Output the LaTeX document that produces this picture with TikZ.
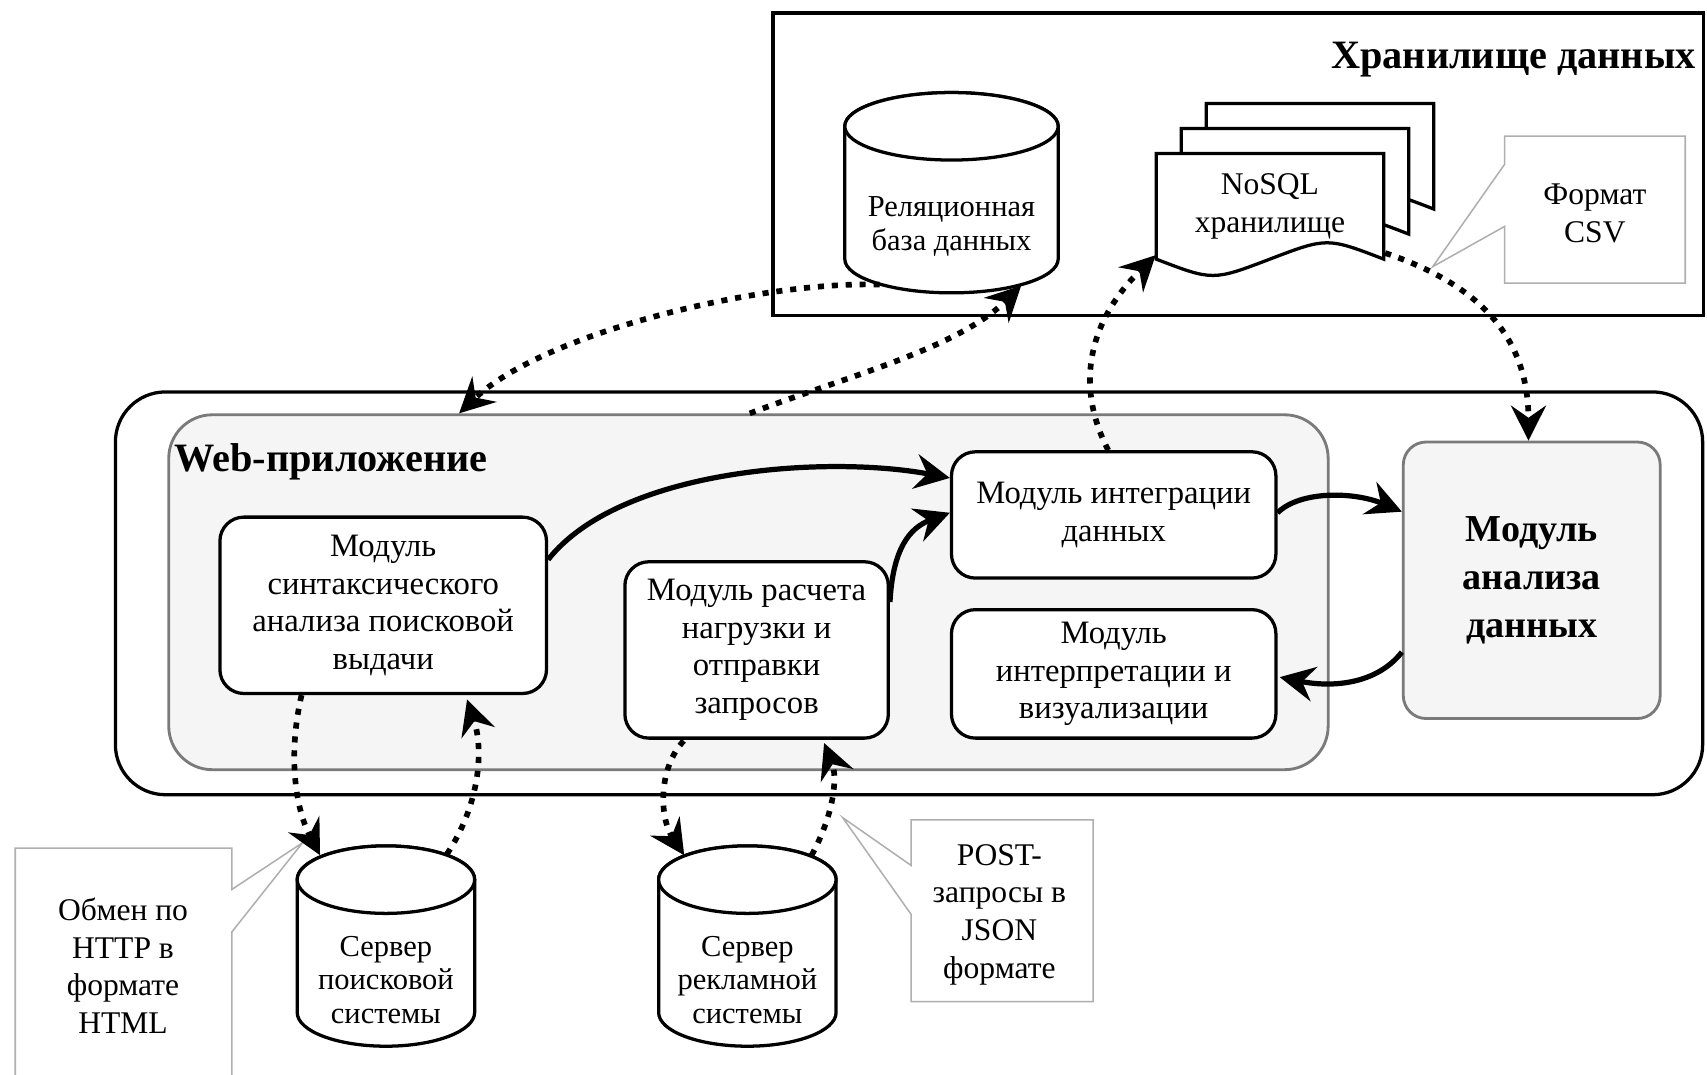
\documentclass[tikz,border=0pt]{standalone}
\usepackage{fontspec}
\setmainfont{Liberation Serif}
\usetikzlibrary{arrows.meta,calc}

\definecolor{panelfill}{HTML}{F5F5F5}
\definecolor{panelline}{HTML}{7A7A7A}
\definecolor{noteline}{HTML}{AFAFAF}

\tikzset{
  txt/.style={font=\fontsize{14.5}{17.3}\selectfont, align=center, inner sep=0pt},
  cyltxt/.style={font=\fontsize{14}{15.5}\selectfont, align=center, inner sep=0pt},
  heading/.style={font=\bfseries\fontsize{18.5}{21}\selectfont, inner sep=0pt},
  storeframe/.style={draw=black, line width=1.5pt, inner sep=0pt},
  container/.style={draw=black, line width=1.5pt, rounded corners=23pt, inner sep=0pt},
  webpanel/.style={draw=panelline, fill=panelfill, line width=1.3pt, rounded corners=20pt, inner sep=0pt},
  module/.style={txt, font=\fontsize{15}{17.3}\selectfont, draw=black, fill=white,
    line width=1.5pt, rounded corners=11pt},
  analysisbox/.style={draw=panelline, fill=panelfill, line width=1.3pt, rounded corners=10.5pt,
    align=center, inner sep=0pt, font=\bfseries\fontsize{17.5}{22}\selectfont},
  cylwall/.style={draw=black, fill=white, line width=1.5pt},
  docwall/.style={draw=black, fill=white, line width=1.5pt, line join=miter},
  notebox/.style={draw=noteline, fill=white, line width=0.7pt},
  solidarrow/.style={line width=2.4pt, -{Stealth[length=16pt,width=16pt,inset=5.5pt]}},
  dotarrow/.style={solidarrow, line width=2.6pt, dash pattern=on 2.8pt off 3.6pt},
}

% database cylinder: name, centre x, top y, width, height, ellipse half-height, label
\newcommand\dbcyl[7]{%
  \path[cylwall] (#2-#4/2,#3+#6) -- (#2-#4/2,#3+#5-#6)
    arc[start angle=180, end angle=360, x radius=#4*0.25pt, y radius=#6*0.5pt]
    -- (#2+#4/2,#3+#6)
    arc[start angle=0, end angle=180, x radius=#4*0.25pt, y radius=#6*0.5pt] -- cycle;
  \draw[cylwall] (#2,#3+#6) ellipse[x radius=#4*0.25pt, y radius=#6*0.5pt];
  \node[cyltxt, minimum width=#4*0.5pt, minimum height=(#5-2*#6)*0.5pt] (#1) at (#2,#3+#6+#5/2) {#7};
}

% one sheet of the document stack: left x, top y
\newcommand\docsheet[2]{%
  \path[docwall] (#1,#2) -- (#1+209,#2) -- (#1+209,#2+97)
    .. controls (#1+157,#2+77) .. (#1+104.5,#2+97)
    .. controls (#1+52,#2+117) .. (#1,#2+97) -- cycle;
}

\begin{document}
\begin{tikzpicture}[x=0.5pt,y=-0.5pt]
\useasboundingbox (0,0) rectangle (1568,987);

% ---------- data storage ----------
\node[storeframe, minimum width=427.5pt, minimum height=139pt] (storage) at (1137.5,151) {};
\node[heading, anchor=east] (storagetitle) at (1558,55) {Хранилище данных};

\dbcyl{rdb}{874}{85}{196}{184}{31}{Реляционная\\база данных}

\docsheet{1108}{95}
\docsheet{1085}{118}
\docsheet{1062}{141}
\node[txt, minimum width=104.5pt, minimum height=48.5pt] (nosql) at (1166.5,189.5) {NoSQL\\хранилище};

\path[notebox] (1382,125) -- (1548,125) -- (1548,260) -- (1382,260) -- (1382,208)
  -- (1316,245) -- (1382,151) -- cycle;
\node[txt] (csvnote) at (1465,196) {Формат\\CSV};

% ---------- web application ----------
\node[container, minimum width=729pt, minimum height=185pt] (outer) at (835,545) {};
\node[webpanel, minimum width=532.5pt, minimum height=163pt] (webapp) at (687.5,544) {};
\node[heading, anchor=west] (webtitle) at (160,424) {Web-приложение};

\node[module, minimum width=150pt, minimum height=81pt] (parse) at (352,556)
  {Модуль\\синтаксического\\анализа поисковой\\выдачи};
\node[module, minimum width=121pt, minimum height=81pt] (load) at (695,597)
  {Модуль расчета\\нагрузки и\\отправки\\запросов};
\node[module, minimum width=149pt, minimum height=58pt] (integ) at (1023,473)
  {Модуль интеграции\\данных};
\node[module, minimum width=149pt, minimum height=59pt] (interp) at (1023,619)
  {Модуль\\интерпретации и\\визуализации};

\node[analysisbox, minimum width=118pt, minimum height=127pt] (analysis) at (1407,533)
  {Модуль\\анализа\\данных};

% ---------- external servers ----------
\dbcyl{search}{354.5}{777}{163}{184}{31}{Сервер\\поисковой\\системы}
\dbcyl{ads}{686.5}{777}{163}{184}{31}{Сервер\\рекламной\\системы}

\path[notebox] (14,1000) -- (14,779) -- (213,779) -- (213,817) -- (278,774)
  -- (213,856) -- (213,1000);
\node[txt] (httpnote) at (113,887) {Обмен по\\HTTP в\\формате\\HTML};

\path[notebox] (837,753) -- (1004,753) -- (1004,920) -- (837,920) -- (837,840)
  -- (774,751) -- (837,795) -- cycle;
\node[txt] (postnote) at (918,840) {POST-\\запросы в\\JSON\\формате};

% ---------- solid data flows ----------
\draw[solidarrow] ($(parse.east)+(0,-42)$) .. controls (570,430) and (760,418) .. ($(integ.west)+(0,-34)$);
\draw[solidarrow] ($(load.east)+(0,-44)$) .. controls (820,505) and (835,485) .. ($(integ.west)+(0,-2)$);
\draw[solidarrow] ($(integ.east)+(0,-2)$) .. controls (1195,450) and (1245,452) .. ($(analysis.west)+(0,-63)$);
\draw[solidarrow] ($(analysis.west)+(0,66)$) .. controls (1265,628) and (1225,632) .. ($(interp.east)+(2,3)$);

% ---------- dotted exchanges ----------
\draw[dotarrow] ($(rdb.south)+(-66,-8)$) .. controls (700,258) and (500,305) .. ($(webapp.north west)+(268,0)$);
\draw[dotarrow] ($(webapp.north west)+(535,0)$) .. controls (780,345) and (880,320) .. ($(rdb.south)+(64,-7)$);
\draw[dotarrow] ($(integ.north)+(-5,0)$) .. controls (990,360) and (995,300) .. ($(nosql.south west)+(0,-4)$);
\draw[dotarrow] ($(nosql.south east)+(1,-6)$) .. controls (1360,262) and (1404,310) .. ($(analysis.north)+(-3,0)$);

\draw[dotarrow] ($(parse.south)+(-75,0)$) .. controls (265,690) and (270,740) .. ($(search.north)+(-60.5,-53)$);
\draw[dotarrow] ($(search.north)+(56,-54)$) .. controls (440,740) and (445,690) .. ($(parse.south)+(77,4)$);
\draw[dotarrow] ($(load.south)+(-67,1)$) .. controls (605,705) and (605,750) .. ($(ads.north)+(-58,-53)$);
\draw[dotarrow] ($(ads.north)+(59,-53)$) .. controls (765,750) and (770,715) .. ($(load.south)+(62,3)$);
\end{tikzpicture}
\end{document}
